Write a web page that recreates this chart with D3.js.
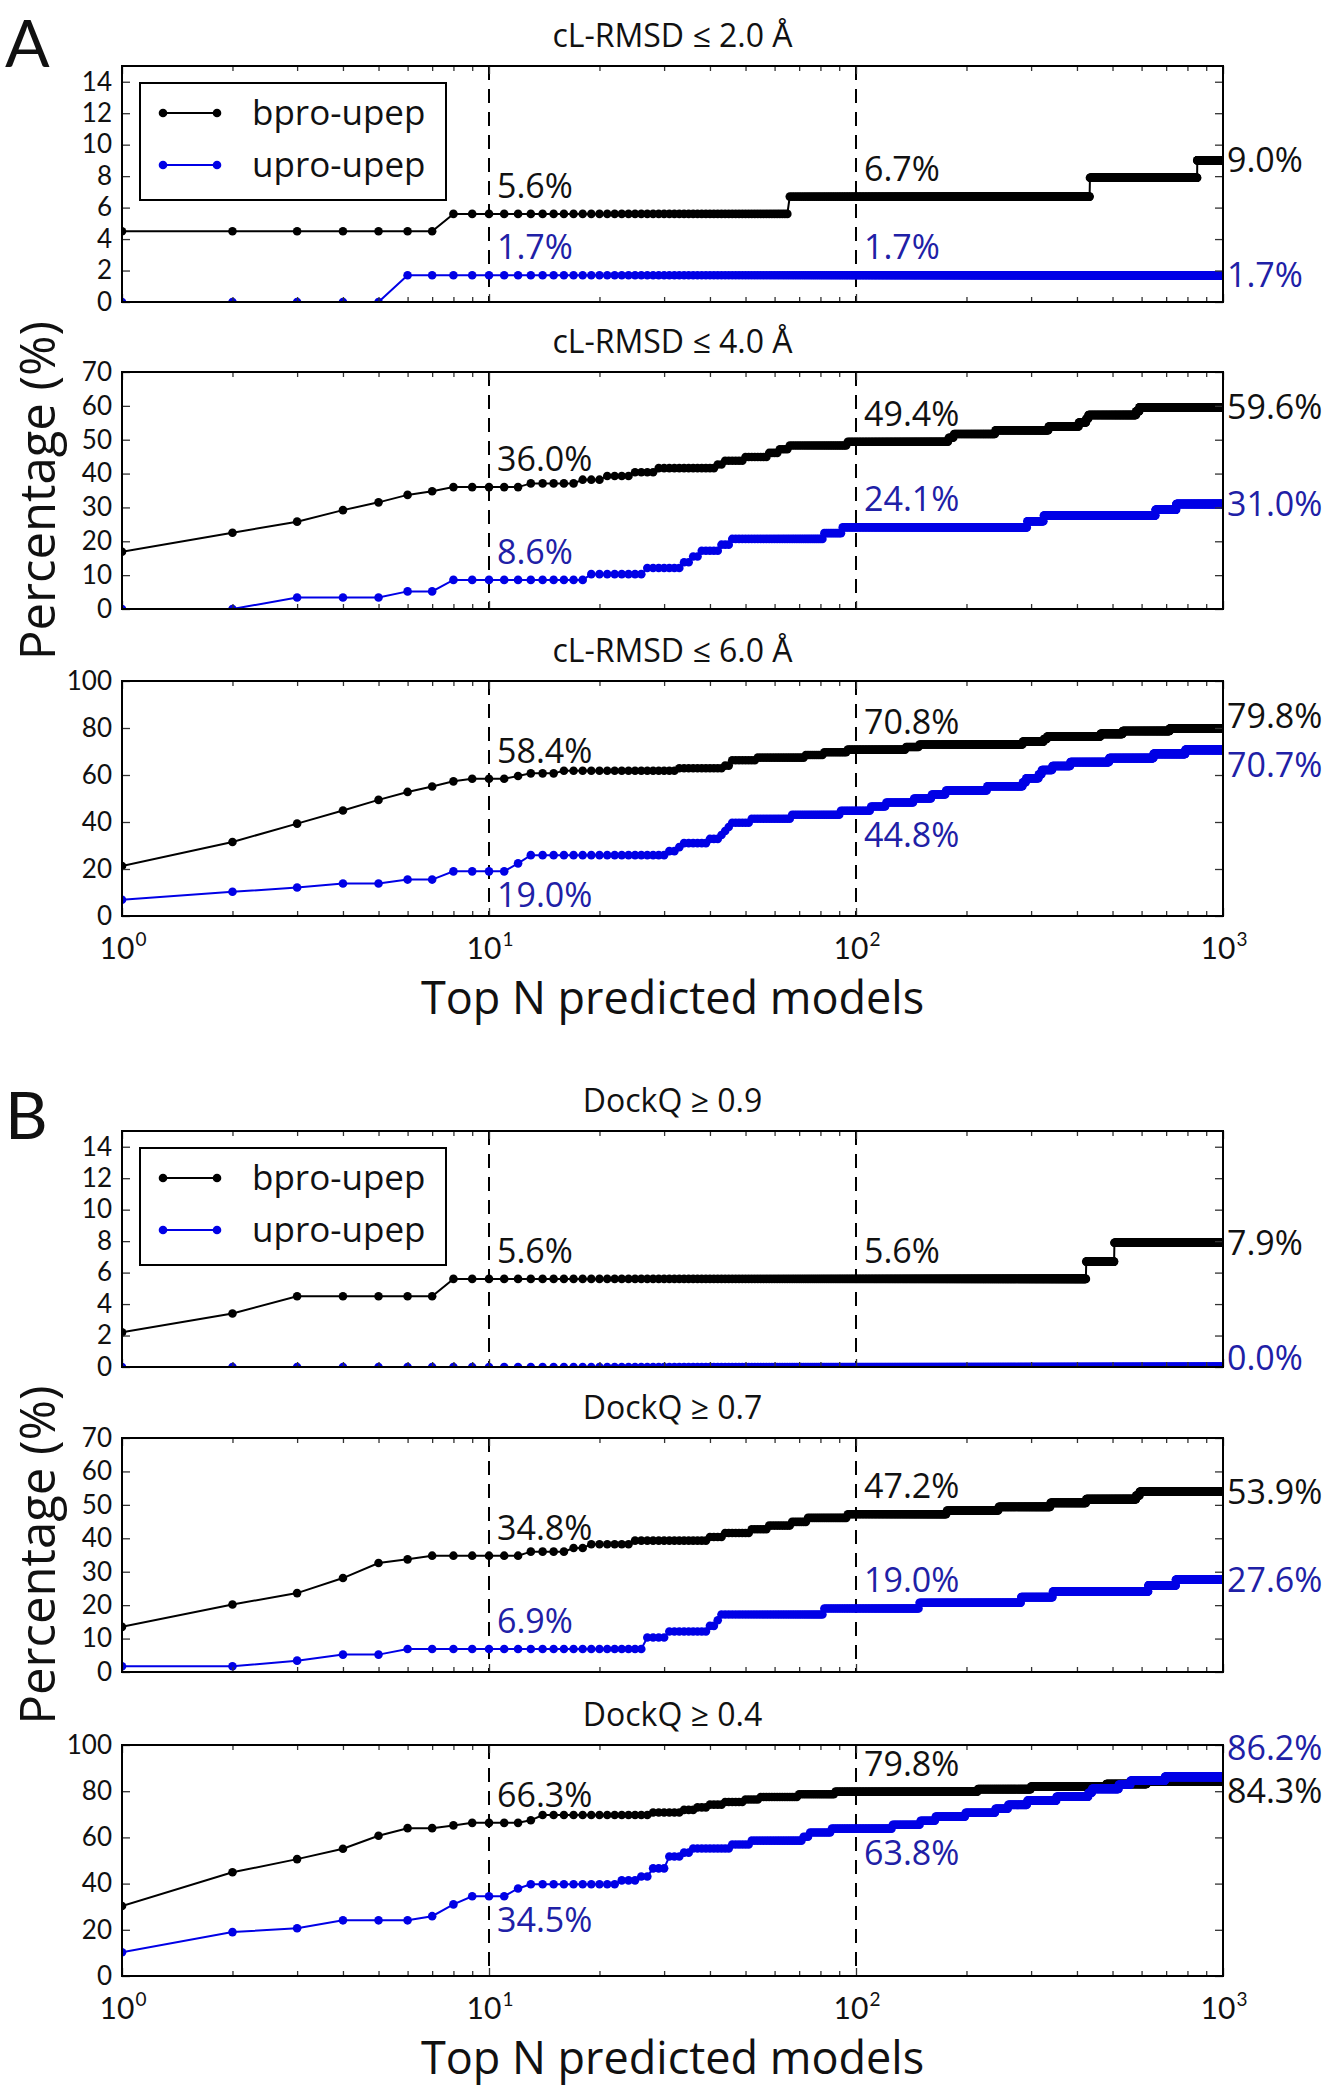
<!DOCTYPE html>
<html><head><meta charset="utf-8">
<script src="https://cdn.jsdelivr.net/npm/d3@7"></script>
<style>body{margin:0;background:#fff}</style>
</head><body>
<svg id="c" width="1330" height="2100"></svg>
<script>
// ---------------- DATA ----------------
const seriesNames = ["bpro-upep", "upro-upep"];
const panelTitles = ["cL-RMSD ≤ 2.0 Å", "cL-RMSD ≤ 4.0 Å", "cL-RMSD ≤ 6.0 Å",
                     "DockQ ≥ 0.9", "DockQ ≥ 0.7", "DockQ ≥ 0.4"];
const panelLetters = ["A", "B"];
const yMax = [15, 70, 100, 15, 70, 100];
const yTicks15 = [0, 2, 4, 6, 8, 10, 12, 14];
const yTicks70 = [0, 10, 20, 30, 40, 50, 60, 70];
const yTicks100 = [0, 20, 40, 60, 80, 100];
const xMajor = [1, 10, 100, 1000];
const xExponents = ["0", "1", "2", "3"];
const xLabel = "Top N predicted models";
const yLabel = "Percentage (%)";
const N_MAX = 1000;

// step change points: [N, percentage]; the value holds until the next change point
const A1_bpro = [[1,4.5],[8,5.6],[66,6.7],[434,7.9],[851,9.0]];
const A1_upro = [[1,0],[6,1.7]];
const A2_bpro = [[1,16.9],[2,22.5],[3,25.8],[4,29.2],[5,31.5],[6,33.7],[7,34.8],[8,36.0],[13,37.1],[18,38.2],[21,39.3],[25,40.4],[29,41.6],[42,42.7],[44,43.8],[50,44.9],[58,46.1],[62,47.2],[66,48.3],[95,49.4],[179,50.6],[185,51.7],[240,52.8],[335,53.9],[405,55.1],[424,56.2],[430,57.3],[580,58.4],[592,59.6]];
const A2_upro = [[1,0],[3,3.4],[6,5.2],[8,8.6],[19,10.3],[27,12.1],[34,13.8],[36,15.5],[38,17.2],[43,19.0],[46,20.7],[82,22.4],[92,24.1],[293,25.9],[325,27.6],[655,29.3],[746,31.0]];
const A3_bpro = [[1,21.3],[2,31.5],[3,39.3],[4,44.9],[5,49.4],[6,52.8],[7,55.1],[8,57.3],[9,58.4],[12,59.6],[13,60.7],[16,61.8],[33,62.9],[44,64.0],[46,66.3],[54,67.4],[73,68.5],[82,69.7],[95,70.8],[137,71.9],[149,73.0],[285,74.2],[325,75.3],[332,76.4],[464,77.5],[533,78.7],[716,79.8]];
const A3_upro = [[1,6.9],[2,10.3],[3,12.1],[4,13.8],[6,15.5],[8,19.0],[12,22.4],[13,25.9],[31,27.6],[33,29.3],[34,31.0],[40,32.8],[43,34.5],[44,36.2],[45,37.9],[46,39.7],[52,41.4],[67,43.1],[91,44.8],[110,46.6],[121,48.3],[144,50.0],[161,51.7],[176,53.4],[228,55.2],[285,56.9],[291,58.6],[315,60.3],[321,62.1],[343,63.8],[384,65.5],[490,67.2],[647,69.0],[790,70.7]];
const B1_bpro = [[1,2.2],[2,3.4],[3,4.5],[8,5.6],[424,6.7],[506,7.9]];
const B1_upro = [[1,0]];
const B2_bpro = [[1,13.5],[2,20.2],[3,23.6],[4,28.1],[5,32.6],[6,33.7],[7,34.8],[13,36.0],[17,37.1],[19,38.2],[25,39.3],[40,40.4],[44,41.6],[52,42.7],[58,43.8],[67,44.9],[74,46.1],[95,47.2],[177,48.3],[245,49.4],[339,50.6],[424,51.7],[580,52.8],[593,53.9]];
const B2_upro = [[1,1.7],[3,3.4],[4,5.2],[6,6.9],[27,10.3],[31,12.1],[40,13.8],[42,15.5],[43,17.2],[82,19.0],[149,20.7],[282,22.4],[344,24.1],[626,25.9],[744,27.6]];
const B3_bpro = [[1,30.3],[2,44.9],[3,50.6],[4,55.1],[5,60.7],[6,64.0],[8,65.2],[9,66.3],[13,67.4],[14,69.7],[28,70.8],[34,71.9],[37,73.0],[40,74.2],[44,75.3],[50,76.4],[55,77.5],[70,78.7],[88,79.8],[215,80.9],[300,82.0],[481,83.1],[620,84.3]];
const B3_upro = [[1,10.3],[2,19.0],[3,20.7],[4,24.1],[7,25.9],[8,31.0],[9,34.5],[12,37.9],[13,39.7],[23,41.4],[26,43.1],[28,46.6],[31,51.7],[34,53.4],[36,55.2],[46,56.9],[52,58.6],[72,60.3],[75,62.1],[86,63.8],[126,65.5],[150,67.2],[165,69.0],[199,70.7],[240,72.4],[260,74.1],[293,75.9],[352,77.6],[430,79.3],[440,81.0],[520,82.8],[560,84.5],[695,86.2]];

// annotations: [N, value, series index]
const annA1 = [[10,5.6,0],[10,1.7,1],[100,6.7,0],[100,1.7,1],[1000,9.0,0],[1000,1.7,1]];
const annA2 = [[10,36.0,0],[10,8.6,1],[100,49.4,0],[100,24.1,1],[1000,59.6,0],[1000,31.0,1]];
const annA3 = [[10,58.4,0],[10,19.0,1],[100,70.8,0],[100,44.8,1],[1000,79.8,0],[1000,70.7,1]];
const annB1 = [[10,5.6,0],[100,5.6,0],[1000,7.9,0],[1000,0.0,1]];
const annB2 = [[10,34.8,0],[10,6.9,1],[100,47.2,0],[100,19.0,1],[1000,53.9,0],[1000,27.6,1]];
const annB3 = [[10,66.3,0],[10,34.5,1],[100,79.8,0],[100,63.8,1],[1000,86.2,1],[1000,84.3,0]];

// ---------------- LAYOUT / STYLE ----------------
const FONT = "'Open Sans','DejaVu Sans',sans-serif";
const FONT2 = "Lato,'Open Sans',sans-serif";
const X0 = 122, X1 = 1223;
const panelBox = [[66,302],[372,609],[681,916],[1131,1367],[1438,1672],[1745,1976]];
const lineColor = ["#000000", "#0000e6"];
const textColor = ["#111111", "#2020a6"];
// label placement: a = above, b = below, r = right of frame (with vertical nudge)
const annPlace = [
  ["a","a","a","a",["r",0],["r",0]],
  ["a","a","a","a",["r",0],["r",0]],
  ["a","b","a","b",["r",-12],["r",15]],
  ["a","a",["r",0],["r",-9]],
  ["a","a","a","a",["r",0],["r",0]],
  ["a","b","a","b",["r",-29],["r",10]]
];

const panelSeries = [[A1_bpro,A1_upro],[A2_bpro,A2_upro],[A3_bpro,A3_upro],
                     [B1_bpro,B1_upro],[B2_bpro,B2_upro],[B3_bpro,B3_upro]];
const panelAnn = [annA1, annA2, annA3, annB1, annB2, annB3];
const panelYTicks = [yTicks15, yTicks70, yTicks100, yTicks15, yTicks70, yTicks100];

function expandSteps(pts){
  const out = []; let j = 0;
  for (let n = 1; n <= N_MAX; n++){
    while (j + 1 < pts.length && pts[j+1][0] <= n) j++;
    out.push([n, pts[j][1]]);
  }
  return out;
}

const svg = d3.select("#c");
svg.append("rect").attr("width",1330).attr("height",2100).attr("fill","#fff");
const x = d3.scaleLog().domain([1, N_MAX]).range([X0, X1]);
const minorTicks = [];
[1,10,100].forEach(d => { for (let k = 2; k <= 9; k++) minorTicks.push(d*k); });
const fmt = d3.format(".1f");

panelBox.forEach(([top, bottom], i) => {
  const y = d3.scaleLinear().domain([0, yMax[i]]).range([bottom, top]);
  const g = svg.append("g");
  const clipId = "clip" + i;
  svg.append("defs").append("clipPath").attr("id", clipId)
    .append("rect").attr("x", X0).attr("y", top).attr("width", X1 - X0).attr("height", bottom - top);

  // title
  g.append("text").attr("x", (X0 + X1) / 2).attr("y", top - 19)
    .attr("text-anchor", "middle").attr("font-family", FONT).attr("font-size", 32)
    .attr("fill", "#111").text(panelTitles[i]);

  const plot = g.append("g").attr("clip-path", `url(#${clipId})`);
  // dashed reference lines
  [10, 100].forEach(v => {
    plot.append("line").attr("x1", x(v)).attr("x2", x(v)).attr("y1", top).attr("y2", bottom)
      .attr("stroke", "#000").attr("stroke-width", 2).attr("stroke-dasharray", "14,9");
  });
  // series
  const line = d3.line().x(d => x(d[0])).y(d => y(d[1]));
  panelSeries[i].forEach((pts, s) => {
    const data = expandSteps(pts);
    plot.append("path").datum(data).attr("d", line).attr("fill", "none")
      .attr("stroke", lineColor[s]).attr("stroke-width", 2);
    plot.append("g").selectAll("circle").data(data).join("circle")
      .attr("cx", d => x(d[0])).attr("cy", d => y(d[1])).attr("r", 4.3)
      .attr("fill", lineColor[s]);
  });

  // axes (ticks inward)
  const tickCol = "#333";
  const yl = g.append("g").attr("transform", `translate(${X0},0)`)
    .call(d3.axisLeft(y).tickValues(panelYTicks[i]).tickSize(-8).tickPadding(10));
  yl.select(".domain").remove();
  yl.selectAll("line").attr("stroke", tickCol).attr("stroke-width", 1.3);
  yl.selectAll("text").attr("font-family", FONT2).attr("font-size", 26).attr("fill", "#111");
  const yr = g.append("g").attr("transform", `translate(${X1},0)`)
    .call(d3.axisRight(y).tickValues(panelYTicks[i]).tickSize(-8));
  yr.select(".domain").remove();
  yr.selectAll("text").remove();
  yr.selectAll("line").attr("stroke", tickCol).attr("stroke-width", 1.3);

  [[bottom, d3.axisBottom], [top, d3.axisTop]].forEach(([yy, ax]) => {
    const gm = g.append("g").attr("transform", `translate(0,${yy})`)
      .call(ax(x).tickValues(xMajor).tickSize(-8));
    gm.select(".domain").remove();
    gm.selectAll("text").remove();
    gm.selectAll("line").attr("stroke", tickCol).attr("stroke-width", 1.3);
    const gn = g.append("g").attr("transform", `translate(0,${yy})`)
      .call(ax(x).tickValues(minorTicks).tickSize(-5));
    gn.select(".domain").remove();
    gn.selectAll("text").remove();
    gn.selectAll("line").attr("stroke", tickCol).attr("stroke-width", 1.3);
  });

  // x tick labels (10 with superscript exponent) on bottom panels of each group
  if (i === 2 || i === 5){
    const xl = g.append("g").attr("transform", `translate(0,${bottom})`)
      .call(d3.axisBottom(x).tickValues(xMajor).tickSize(0));
    xl.select(".domain").remove();
    xl.selectAll("line").remove();
    xl.selectAll("text").remove();
    xl.selectAll(".tick").each(function(d, k){
      const tk = d3.select(this);
      const base = tk.append("text").attr("x", 0).attr("y", 43).attr("text-anchor", "start")
        .attr("font-family", FONT2).attr("font-size", 30).attr("fill", "#111").text("10");
      const sup = tk.append("text").attr("x", 0).attr("y", 30).attr("text-anchor", "start")
        .attr("font-family", FONT2).attr("font-size", 19).attr("fill", "#111").text(xExponents[k]);
      const w1 = base.node().getComputedTextLength();
      const w2 = sup.node().getComputedTextLength();
      const start = -(w1 + w2) / 2;
      base.attr("x", start);
      sup.attr("x", start + w1 + 1);
    });
    g.append("text").attr("x", (X0 + X1) / 2).attr("y", bottom + 98)
      .attr("text-anchor", "middle").attr("font-family", FONT).attr("font-size", 45)
      .attr("fill", "#111").text(xLabel);
  }

  // frame
  g.append("rect").attr("x", X0).attr("y", top).attr("width", X1 - X0).attr("height", bottom - top)
    .attr("fill", "none").attr("stroke", "#000").attr("stroke-width", 2);

  // annotations
  panelAnn[i].forEach(([n, v, s], k) => {
    const p = annPlace[i][k];
    const t = g.append("text").attr("font-family", FONT).attr("font-size", 34)
      .attr("fill", textColor[s]).text(fmt(v) + "%");
    if (p === "a") t.attr("x", x(n) + 8).attr("y", y(v) - 16);
    else if (p === "b") t.attr("x", x(n) + 8).attr("y", y(v) + 36);
    else t.attr("x", X1 + 4).attr("y", y(v) + p[1]).attr("dy", "0.35em");
  });

  // legend
  if (i === 0 || i === 3){
    const lg = g.append("g");
    lg.append("rect").attr("x", 140).attr("y", top + 17).attr("width", 306).attr("height", 117)
      .attr("fill", "#fff").attr("stroke", "#000").attr("stroke-width", 2);
    seriesNames.forEach((nm, s) => {
      const yy = top + 47 + s * 52;
      lg.append("line").attr("x1", 163).attr("x2", 217).attr("y1", yy).attr("y2", yy)
        .attr("stroke", lineColor[s]).attr("stroke-width", 2);
      [163, 217].forEach(cx => lg.append("circle").attr("cx", cx).attr("cy", yy).attr("r", 4.3).attr("fill", lineColor[s]));
      lg.append("text").attr("x", 252).attr("y", yy).attr("dy", "0.35em")
        .attr("font-family", FONT).attr("font-size", 35).attr("fill", "#111").text(nm);
    });
  }
});

// group letters and y-axis labels
[[0, 1], [3, 4]].forEach(([first, mid], gi) => {
  svg.append("text").attr("x", 5).attr("y", gi === 0 ? 67 : 1139)
    .attr("font-family", FONT2).attr("font-size", 66).attr("fill", "#111").text(panelLetters[gi]);
  const cy = (panelBox[mid][0] + panelBox[mid][1]) / 2;
  svg.append("text").attr("transform", `translate(55,${cy}) rotate(-90)`)
    .attr("text-anchor", "middle").attr("font-family", FONT).attr("font-size", 49)
    .attr("fill", "#111").text(yLabel);
});
</script>
</body></html>
